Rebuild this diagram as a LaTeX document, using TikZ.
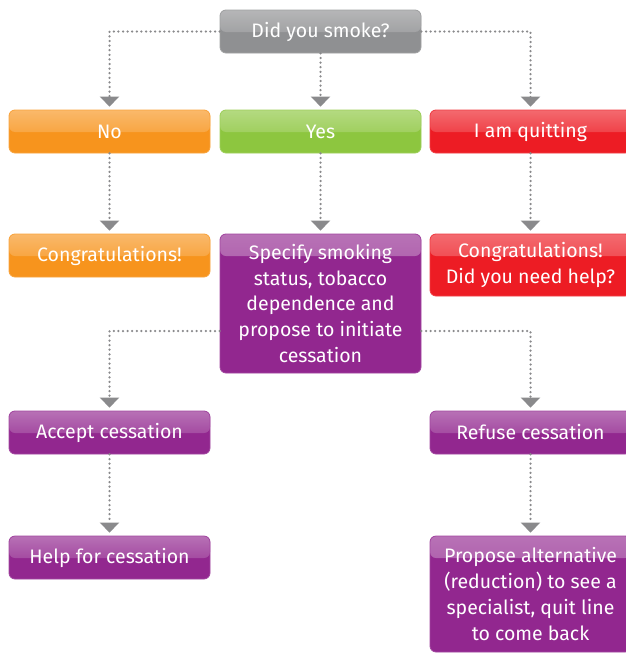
\documentclass[tikz,border=0pt]{standalone}
\usepackage{fontspec}
\setmainfont{Fira Sans}
\usetikzlibrary{arrows.meta}
\definecolor{cgrey}{HTML}{8F9092}
\definecolor{corange}{HTML}{F7941D}
\definecolor{cgreen}{HTML}{8DC63F}
\definecolor{cred}{HTML}{ED1C24}
\definecolor{cpurple}{HTML}{92278F}
\definecolor{cline}{HTML}{8A8A8C}
\tikzset{
  box/.style={rounded corners=6pt, fill=#1, draw=#1!85!white, line width=0.8pt,
    minimum width=201pt, minimum height=43pt, inner sep=2pt,
    text=white, align=center, font=\fontsize{19.5}{25.7}\selectfont,
    path picture={\shade[top color=white!35!#1, bottom color=#1]
      ([yshift=1pt]path picture bounding box.north west) rectangle
      ([yshift=-22pt]path picture bounding box.north east);}},
  conn/.style={cline, line width=2.5pt, dash pattern=on 0pt off 4.6pt, line cap=round,
    -{Triangle[width=19pt,length=10pt,line cap=butt]}, shorten >=3pt}
}
\begin{document}
\begin{tikzpicture}[x=1pt,y=-1pt]
\useasboundingbox (0,0) rectangle (626,653);
\node[box=cgrey] (q) at (320.5,31.5) {Did you smoke?};
\node[box=corange] (no) at (109.5,131.5) {No};
\node[box=cgreen] (yes) at (320.5,131.5) {Yes};
\node[box=cred] (quit) at (530.5,131.5) {I am quitting};
\node[box=corange] (cong) at (109.5,255.5) {Congratulations!};
\node[box=cpurple, minimum height=139pt] (spec) at (320.5,303.5) {Specify smoking\\status, tobacco\\dependence and\\propose to initiate\\cessation};
\node[box=cred, minimum height=62pt] (cong2) at (530.5,265) {Congratulations!\\Did you need help?};
\node[box=cpurple] (acc) at (109.5,432.5) {Accept cessation};
\node[box=cpurple] (ref) at (530.5,432.5) {Refuse cessation};
\node[box=cpurple] (help) at (109.5,557.5) {Help for cessation};
\node[box=cpurple, minimum height=116pt] (prop) at (530.5,594) {Propose alternative\\(reduction) to see a\\specialist, quit line\\to come back};
\draw[conn] (q.west) -| (no.north);
\draw[conn] (q.south) -- (yes.north);
\draw[conn] (q.east) -| (quit.north);
\draw[conn] (no.south) -- (cong.north);
\draw[conn] (yes.south) -- (spec.north);
\draw[conn] (quit.south) -- (cong2.north);
\draw[conn] ([yshift=-27.5pt]spec.west) -| (acc.north);
\draw[conn] ([yshift=-27.5pt]spec.east) -| (ref.north);
\draw[conn] (acc.south) -- (help.north);
\draw[conn] (ref.south) -- (prop.north);
\end{tikzpicture}
\end{document}
